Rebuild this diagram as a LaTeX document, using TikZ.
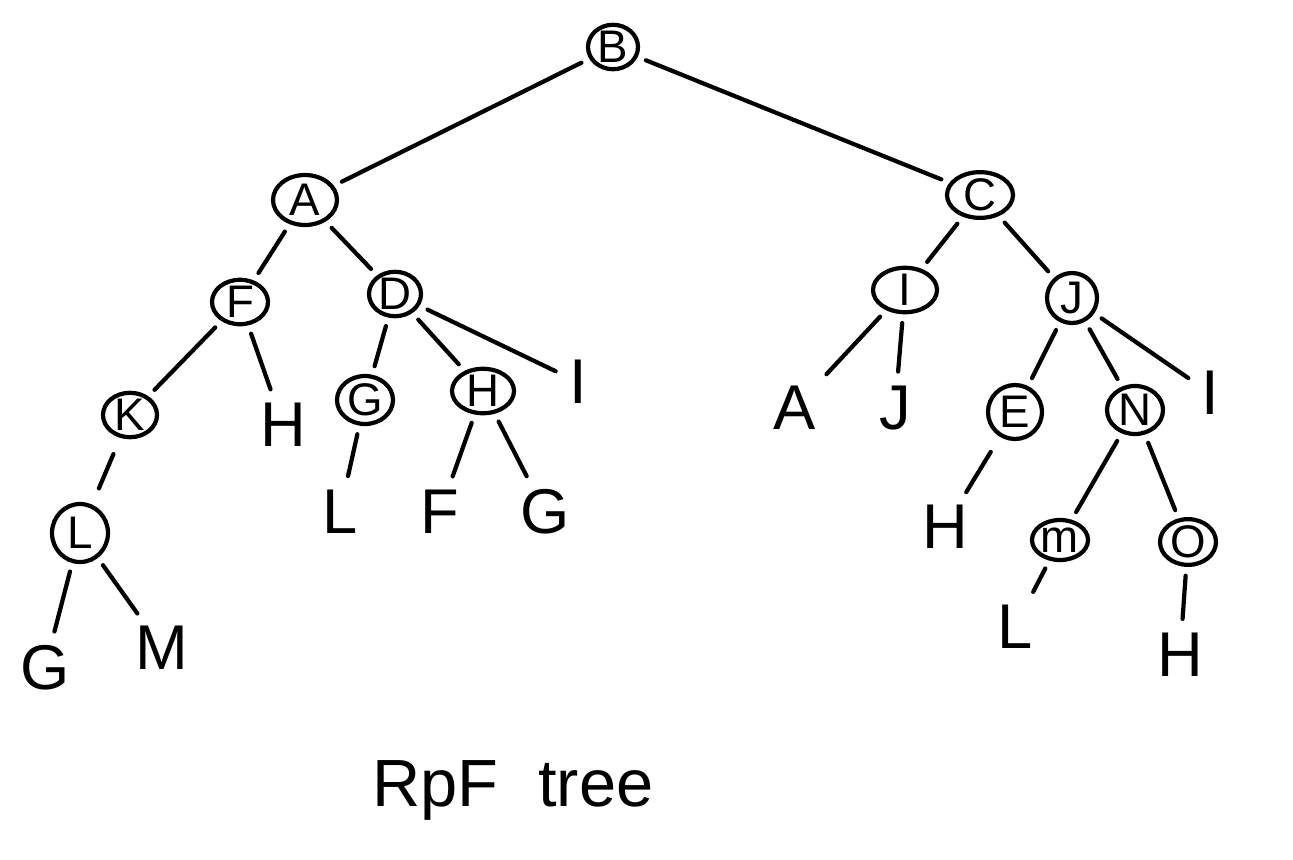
\documentclass[tikz,border=0pt]{standalone}
\usepackage{fontspec}
\setmainfont{Liberation Sans}
\usetikzlibrary{shapes.geometric}
\begin{document}
\begin{tikzpicture}[x=0.02cm,y=-0.02cm, line width=2.4pt, line cap=round,
  circ/.style={draw, ellipse, inner sep=0pt, minimum width=56*0.02cm, minimum height=44*0.02cm, font=\fontsize{26}{26}\selectfont, line width=2.4pt},
  leaf/.style={inner sep=2pt, font=\fontsize{36}{36}\selectfont},
  edge/.style={shorten <=5pt, shorten >=5pt}]
\useasboundingbox (0,0) rectangle (1293,859);
% circled nodes
\node[circ, minimum width=50*0.02cm, minimum height=38*0.02cm] (B) at (613,47) {B};
\node[circ, minimum width=64*0.02cm, minimum height=50*0.02cm] (A) at (305,200) {A};
\node[circ] (F) at (240,302) {F};
\node[circ, minimum width=52*0.02cm, minimum height=42*0.02cm] (D) at (395,294) {D};
\node[circ, minimum width=54*0.02cm, minimum height=40*0.02cm] (K) at (130,415) {K};
\node[circ, minimum height=48*0.02cm] (G) at (365,400) {G};
\node[circ, minimum width=62*0.02cm, minimum height=42*0.02cm] (H) at (483,391) {H};
\node[circ, minimum height=58*0.02cm] (L) at (80,533) {L};
\node[circ, minimum width=66*0.02cm] (C) at (980,195) {C};
\node[circ, minimum width=64*0.02cm, minimum height=42*0.02cm] (I) at (905,290) {I};
\node[circ, minimum width=50*0.02cm, minimum height=50*0.02cm] (J) at (1072,298) {J};
\node[circ, minimum width=54*0.02cm, minimum height=54*0.02cm] (E) at (1015,412) {E};
\node[circ, minimum height=48*0.02cm] (N) at (1135,410) {N};
\node[circ, minimum height=40*0.02cm] (m) at (1060,540) {m};
\node[circ] (O) at (1188,542) {O};
% leaves
\node[leaf] (fH) at (283,425) {H};
\node[leaf] (dI) at (578,382) {I};
\node[leaf] (gL) at (340,512) {L};
\node[leaf] (hF) at (440,512) {F};
\node[leaf] (hG) at (545,512) {G};
\node[leaf] (lG) at (45,668) {G};
\node[leaf] (lM) at (162,648) {M};
\node[leaf] (iA) at (795,408) {A};
\node[leaf] (iJ) at (895,408) {J};
\node[leaf] (jI) at (1210,393) {I};
\node[leaf] (eH) at (945,527) {H};
\node[leaf] (mL) at (1015,627) {L};
\node[leaf] (oH) at (1180,655) {H};
\node[font=\fontsize{38}{38}\selectfont, anchor=west, inner sep=0pt] (title) at (370,790) {RpF\hspace{0.6em}tree};
% edges
\draw[edge] (B) -- (A);
\draw[edge] (B) -- (C);
\draw[edge] (A) -- (F);
\draw[edge] (A) -- (D);
\draw[edge] (F) -- (K);
\draw[edge] (F) -- (fH);
\draw[edge] (D) -- (G);
\draw[edge] (D) -- (H);
\draw[edge] (D) -- (dI);
\draw[edge, shorten <=10pt, shorten >=10pt] (K) -- (L);
\draw[edge] (L) -- (lG);
\draw[edge] (L) -- (lM);
\draw[edge] (G) -- (gL);
\draw[edge] (H) -- (hF);
\draw[edge] (H) -- (hG);
\draw[edge] (C) -- (I);
\draw[edge] (C) -- (J);
\draw[edge] (I) -- (iA);
\draw[edge] (I) -- (iJ);
\draw[edge] (J) -- (E);
\draw[edge] (J) -- (N);
\draw[edge] (J) -- (jI);
\draw[edge, shorten <=10pt] (E) -- (eH);
\draw[edge] (N) -- (m);
\draw[edge] (N) -- (O);
\draw[edge] (m) -- (mL);
\draw[edge] (O) -- (oH);
\end{tikzpicture}
\end{document}
